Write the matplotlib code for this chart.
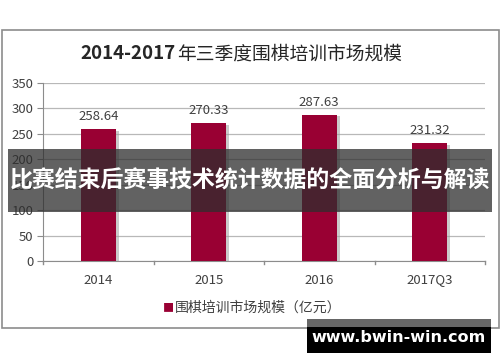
import matplotlib
matplotlib.use('Agg')
import matplotlib.pyplot as plt
import matplotlib.patheffects as pe
from matplotlib.patches import Rectangle

plt.rcParams['font.family'] = ['Noto Sans CJK SC', 'DejaVu Sans']

# data
categories = ['2014', '2015', '2016', '2017Q3']
values = [258.64, 270.33, 287.63, 231.32]
value_labels = ['258.64', '270.33', '287.63', '231.32']
yticks = [0, 50, 100, 150, 200, 250, 300, 350]
series_name = '围棋培训市场规模（亿元）'
title_num = '2014-2017'
title_txt = '年三季度围棋培训市场规模'
banner = '比赛结束后赛事技术统计数据的全面分析与解读'
watermark = 'www.bwin-win.com'

bar_color = '#990033'
txt_color = '#404040'

fig = plt.figure(figsize=(5, 3.62), dpi=100)

# outer chart frame
fig.patches.append(Rectangle((0.003, 0.094), 0.994, 0.823, transform=fig.transFigure,
                             fill=False, edgecolor='#8c8c8c', linewidth=1.2))

ax = fig.add_axes([0.086, 0.279, 0.884, 0.492])
x = list(range(len(categories)))
bars = ax.bar(x, values, width=0.32, color=bar_color, zorder=3)
for b in bars:
    b.set_path_effects([pe.SimplePatchShadow(offset=(2, -1), shadow_rgbFace='#999999', alpha=0.5), pe.Normal()])
for xi, v, lab in zip(x, values, value_labels):
    ax.text(xi, v + 12, lab, ha='center', va='bottom', fontsize=9.5, color=txt_color)

ax.set_xlim(-0.5, len(categories) - 0.5)
ax.set_ylim(0, 350)
ax.set_yticks(yticks)
ax.set_yticklabels([str(t) for t in yticks], fontsize=9.5, color=txt_color)
ax.set_xticks(x)
ax.set_xticklabels(categories, fontsize=9.5, color=txt_color)
ax.tick_params(axis='x', length=0, pad=9)
ax.tick_params(axis='y', length=4, color='#8c8c8c', pad=3)
# category boundary ticks
for bx in [-0.5, 0.5, 1.5, 2.5, 3.5]:
    ax.plot([bx, bx], [0, -6], color='#8c8c8c', lw=1, clip_on=False, zorder=2)
ax.grid(axis='y', color='#b8b8b8', lw=0.9, zorder=0)
for s in ['top', 'right']:
    ax.spines[s].set_visible(False)
ax.spines['left'].set_color('#8c8c8c')
ax.spines['bottom'].set_color('#8c8c8c')

# title
fig.text(0.352, 0.851, title_num, ha='right', va='center', fontsize=13.5, fontweight='bold', color='#262626')
fig.text(0.354, 0.851, title_txt, ha='left', va='center', fontsize=13.5, fontweight='light', color='#262626')

# legend
fig.text(0.336, 0.149, '■', ha='center', va='center', fontsize=8, color=bar_color)
fig.text(0.35, 0.149, series_name, ha='left', va='center', fontsize=10, color=txt_color)

# overlay banner
fig.patches.append(Rectangle((0.016, 0.414), 0.968, 0.174, transform=fig.transFigure,
                             facecolor='#2e2e2e', alpha=0.75, edgecolor='none', zorder=10))
fig.text(0.5, 0.5, banner, ha='center', va='center', fontsize=16.5, fontweight='bold',
         color='white', zorder=11)

# watermark
fig.patches.append(Rectangle((0.614, 0.025), 0.368, 0.094, transform=fig.transFigure,
                             facecolor='black', edgecolor='none', zorder=10))
fig.patches.append(Rectangle((0.614, 0.097), 0.368, 0.022, transform=fig.transFigure,
                             facecolor='#666666', edgecolor='none', zorder=10))
fig.text(0.798, 0.069, watermark, ha='center', va='center', fontsize=11.5, fontweight='bold',
         color='white', family='DejaVu Sans', zorder=11)

fig.savefig('out.png', dpi=100)
